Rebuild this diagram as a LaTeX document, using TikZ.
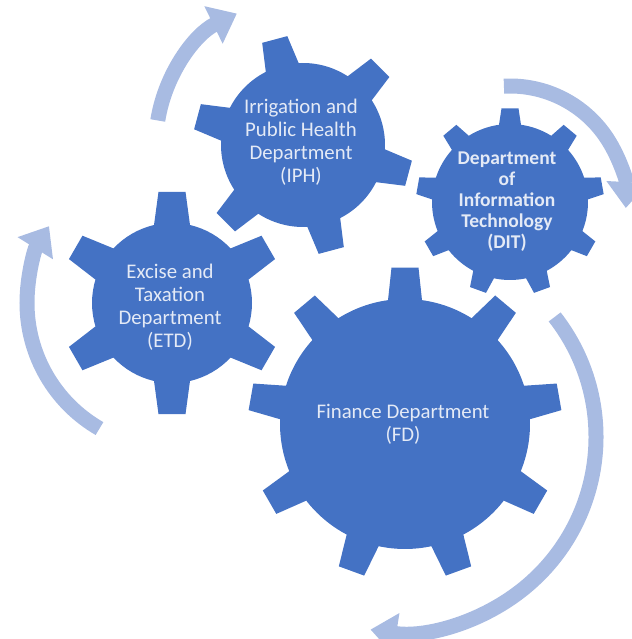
\documentclass[tikz,border=0pt]{standalone}
\usepackage{fontspec}
\setmainfont{Carlito}
\usetikzlibrary{arrows.meta}
\definecolor{gearblue}{RGB}{68,114,196}
\definecolor{flowblue}{RGB}{168,187,226}
\definecolor{labeltext}{RGB}{228,234,246}
\newcommand{\mygear}[8]{%
 \pgfmathsetmacro{\gd}{360/#5}%
 \pgfmathsetmacro{\gai}{asin(#7/#3)}%
 \pgfmathsetmacro{\gao}{asin(#8/#4)}%
 \pgfmathtruncatemacro{\gn}{#5-1}%
 \fill[gearblue,shift={(#1,#2)}] ({#6-\gai}:#3) \foreach \k in {0,...,\gn}{ -- ({#6+\k*\gd-\gao}:#4) -- ({#6+\k*\gd+\gao}:#4) -- ({#6+\k*\gd+\gai}:#3) arc[start angle={#6+\k*\gd+\gai}, end angle={#6+(\k+1)*\gd-\gai}, radius=#3]} -- cycle;%
}
\tikzset{
 lbl/.style={text=labeltext, align=center, font=\fontsize{20.8}{23}\selectfont, inner sep=0pt},
 flow/.style={draw=flowblue, line width=15pt, line cap=butt, -{Triangle[length=26pt,width=40pt]}}
}
\begin{document}
\begin{tikzpicture}[x=1pt,y=1pt]
\useasboundingbox (0,0) rectangle (631,639);
% gears
\mygear{405}{215}{125}{157}{9}{90}{17}{13.5}
\mygear{172}{336}{80}{112}{6}{90}{18}{13.5}
\mygear{303}{494}{82}{110}{6}{105}{17}{13}
\mygear{510}{437}{78}{94}{9}{90}{11}{8.5}
% arrow centres
\coordinate (a1) at (300,496);
\coordinate (a2) at (510,437);
\coordinate (a3) at (172,336);
\coordinate (a4) at (401,202);
\draw[flow] ([shift={(171:144)}]a1) arc[start angle=171, end angle=116, radius=144];
\draw[flow] ([shift={(93:116)}]a2) arc[start angle=93, end angle=-3, radius=116];
\draw[flow] ([shift={(240:145)}]a3) arc[start angle=240, end angle=148, radius=145];
\draw[flow] ([shift={(38:195)}]a4) arc[start angle=38, end angle=-99, radius=195];
% labels
\node[lbl] (iph) at (301,497) {Irrigation and\\Public Health\\Department\\(IPH)};
\node[lbl] (etd) at (170,332) {Excise and\\Taxation\\Department\\(ETD)};
\node[lbl, font=\fontsize{19.5}{21}\selectfont\bfseries] (dit) at (507,437) {Department\\of\\Information\\Technology\\(DIT)};
\node[lbl] (fd) at (403,215) {Finance Department\\(FD)};
\end{tikzpicture}
\end{document}
